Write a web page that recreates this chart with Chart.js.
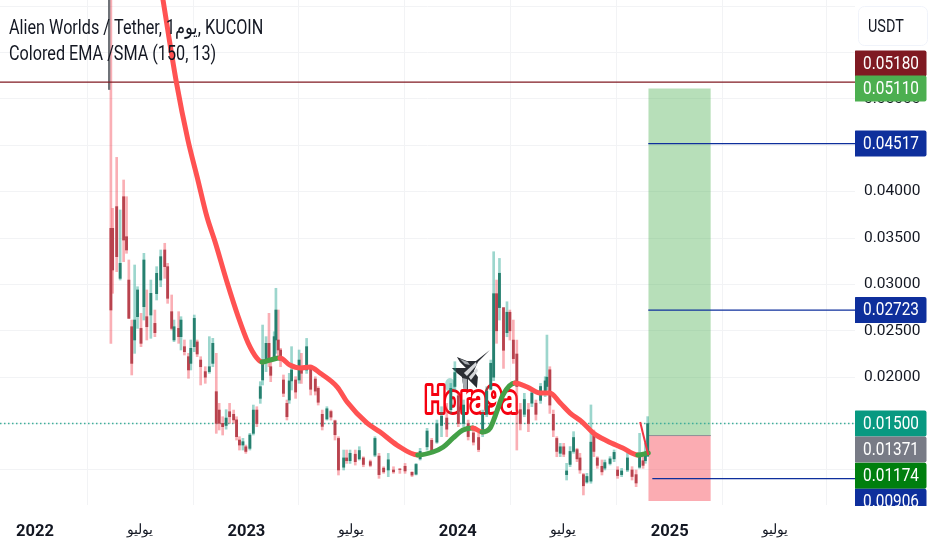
<!DOCTYPE html>
<html><head><meta charset="utf-8">
<style>html,body{margin:0;padding:0;background:#fff}canvas{display:block;filter:blur(.35px)}</style>
<script src="https://cdn.jsdelivr.net/npm/chart.js@4"></script>
</head><body><canvas id="c" width="932" height="550"></canvas>
<script>
// Candles: days since 2022-01-01 and OHLC
const candleDays=[131,134,141,147,153,158,162,167,172,177,183,188,193,200,207,210,217,224,229,236,240,248,252,258,265,269,275,280,286,294,301,307,313,318,324,330,336,343,348,353,359,364,371,377,383,389,393,399,404,407,413,416,420,424,429,435,439,443,450,456,460,469,476,484,489,496,504,511,518,524,533,538,544,553,560,567,579,587,594,602,610,619,630,639,651,658,665,677,685,694,702,711,718,725,731,740,748,757,766,773,780,787,792,797,802,809,815,820,826,832,838,845,852,858,865,873,881,884,889,895,901,907,913,918,924,930,936,941,947,953,960,965,971,979,984,993,1000,1006,1013,1023,1031,1038,1044,1050,1054,1058];
const highs=[.0700,.03820,.04369,.03802,.04125,.03945,.03263,.02616,.03209,.02975,.02688,.03335,.02940,.03047,.02724,.03191,.03371,.03443,.03227,.02886,.02616,.02706,.02652,.02401,.02257,.02401,.02670,.02401,.02221,.02113,.02437,.02419,.02257,.01718,.01574,.01650,.01718,.01646,.01574,.01359,.01341,.01269,.01395,.01700,.01682,.01952,.02562,.02437,.02688,.02185,.02490,.02958,.02724,.02311,.02024,.01754,.02042,.02329,.02006,.02293,.02257,.02418,.02113,.02005,.01898,.01646,.01682,.01646,.01538,.01359,.01215,.01215,.01215,.01215,.01251,.01143,.01107,.01359,.01179,.01035,.01179,.01035,.01017,.01071,.00982,.01071,.01233,.01449,.01341,.01538,.01682,.01718,.01933,.02167,.01826,.01754,.01538,.01467,.01395,.01646,.01898,.02185,.03352,.03047,.03280,.02616,.02813,.02724,.02616,.02400,.01718,.01826,.01718,.01862,.01754,.01933,.02005,.02454,.02113,.01646,.01359,.01287,.01287,.01072,.01252,.01413,.01234,.01180,.00964,.00964,.01701,.01431,.01144,.01108,.01108,.01144,.01216,.01036,.01018,.01180,.01036,.01000,.01395,.01180,.01287,.01575];
const lows=[.02365,.02904,.03137,.03047,.03245,.03335,.02634,.02024,.02257,.02526,.02329,.02616,.02401,.02419,.02437,.02832,.02975,.03065,.02796,.02508,.02383,.02365,.02293,.02239,.01988,.02078,.02275,.02221,.01916,.01934,.02042,.02113,.01395,.01431,.01377,.01440,.01503,.01503,.01323,.01215,.01215,.01179,.01215,.01377,.01467,.01718,.01916,.02060,.02113,.01952,.02185,.02257,.02221,.02113,.01790,.01539,.01718,.01862,.01772,.01934,.01933,.02041,.01808,.01808,.01700,.01431,.01538,.01538,.01323,.00946,.01000,.01071,.01071,.01053,.01107,.01035,.01035,.01143,.00910,.00964,.00928,.00964,.00964,.00964,.00928,.00946,.01107,.01215,.01179,.01287,.01359,.01359,.01610,.01862,.01467,.01467,.01323,.01269,.01197,.01359,.01574,.01862,.01963,.02365,.02616,.02095,.02436,.02400,.02149,.01215,.01431,.01574,.01413,.01682,.01538,.01718,.01790,.01862,.01610,.01359,.01143,.01144,.01144,.00892,.01036,.01180,.01090,.00964,.00731,.00857,.00857,.01144,.01018,.00946,.01000,.01054,.01090,.00910,.00928,.00982,.00892,.00820,.01018,.01018,.01072,.01144];
const opens=[.03604,.03604,.03838,.03065,.03945,.03514,.03047,.02544,.02401,.02652,.02526,.02760,.02652,.02670,.02580,.02900,.03047,.03371,.03191,.02706,.02401,.02526,.02437,.02329,.02221,.02149,.02329,.02380,.02185,.02060,.02060,.02149,.01844,.01646,.01503,.01480,.01628,.01600,.01540,.01323,.01269,.01250,.01233,.01395,.01646,.01772,.01970,.02185,.02365,.02113,.02220,.02401,.02401,.02293,.01970,.01718,.01754,.01960,.01970,.01970,.02113,.02077,.02090,.01980,.01880,.01600,.01550,.01630,.01530,.01340,.01030,.01130,.01100,.01170,.01120,.01130,.01090,.01160,.01150,.01020,.01000,.01000,.01010,.01040,.00975,.00955,.01120,.01250,.01320,.01300,.01480,.01560,.01650,.01900,.01800,.01500,.01500,.01400,.01350,.01400,.01600,.01870,.02000,.02900,.02750,.02750,.02480,.02700,.02400,.02250,.01650,.01600,.01650,.01720,.01720,.01750,.01840,.01900,.02080,.01600,.01340,.01180,.01250,.00950,.01060,.01200,.01220,.01130,.00950,.00870,.00880,.01370,.01130,.01040,.01020,.01070,.01120,.01000,.00950,.01000,.01000,.00950,.01030,.01100,.01100,.01150];
const closes=[.02724,.03155,.03299,.03227,.03478,.03371,.02634,.02149,.02616,.02940,.02365,.03263,.02544,.02904,.02480,.03119,.03299,.03191,.02850,.02526,.02544,.02437,.02616,.02275,.02078,.02311,.02634,.02250,.02113,.02000,.02113,.02365,.01503,.01503,.01467,.01560,.01574,.01540,.01359,.01269,.01305,.01200,.01377,.01646,.01500,.01898,.02185,.02365,.02200,.02020,.02437,.02724,.02293,.02185,.01826,.01574,.01960,.02078,.01840,.02185,.02042,.02329,.01870,.01850,.01730,.01470,.01660,.01570,.01380,.01000,.01130,.01100,.01180,.01090,.01210,.01060,.01050,.01340,.00950,.00980,.01110,.00980,.01005,.00990,.00945,.01060,.01200,.01420,.01200,.01500,.01580,.01440,.01880,.02050,.01500,.01700,.01360,.01300,.01220,.01600,.01850,.02150,.02900,.02500,.03120,.02290,.02700,.02500,.02200,.01900,.01500,.01760,.01500,.01830,.01600,.01900,.01960,.02000,.01700,.01430,.01200,.01250,.01170,.00990,.01200,.01350,.01120,.01000,.00830,.00930,.01300,.01200,.01050,.00980,.01080,.01120,.01190,.00940,.00990,.01130,.00930,.00860,.01180,.01050,.01150,.01500];
const listingDay=[128];
const listingRange=[[.0510,.0700]];
// Colored EMA/SMA (150, 13)
const emaDays=[221,244,264,280,297,311,332,351,368,383,392,406,423,440,458,475,492,522,539,573,596,625,661,687,705,722,739,756,772,786,794,808,829,850,872,889,907,924,945,964,988,1015,1041,1059];
const emaValues=[.06065,.05181,.04556,.04157,.03726,.03457,.03015,.02649,.02369,.02207,.02164,.02185,.02207,.02131,.02099,.02110,.02045,.01894,.01733,.01507,.01409,.01269,.01162,.01194,.01248,.01345,.01431,.01453,.01409,.01453,.01571,.01808,.01938,.01894,.01830,.01830,.01722,.01614,.01517,.01399,.01312,.01237,.01162,.01183];
const emaRising=[0,0,0,0,0,0,0,0,0,0,0,1,1,0,0,0,0,0,0,0,0,0,0,1,1,1,1,1,0,1,1,1,1,0,0,0,0,0,0,0,0,0,0,1];
// Axes
const priceTicks=[.06,.055,.05,.045,.04,.035,.03,.025,.02,.015,.01];
const priceTicksShown=[.05,.04,.035,.03,.025,.02];
const timeTicks=[0,181,365,546,730,912,1096,1277];
const timeLabels=['2022','يوليو','2023','يوليو','2024','يوليو','2025','يوليو'];
const yearTicks=[0,365,730,1096];
// Trade drawing
const tradeDays=[1059,1167];
const targetPrice=.0511, entryPrice=.01371, stopPrice=.00667;
const resistance=.0518, lastPrice=.015;
const blueLevels=[.04517,.02723];
const lowerBlueLevel=.00906, lowerBlueStart=1066;
const viewDays=[-60.5,1416];
const viewPrice=[.006228,.060647];
const arrowDays=[1045,1059], arrowValues=[.01517,.01162];
const titleLines=['Alien Worlds / Tether, 1يوم, KUCOIN','Colored EMA /SMA (150, 13)'];
const tagValues=['0.05180','0.05110','0.04517','0.02723','0.01500','0.01371','0.01174','0.00906'];
const tagPrices=[.0518,.0511,.04517,.02723,.015,.01371,.01174,.00906];
const tagColors=['#7f1a22','#4caf50','#0e2f9c','#0e2f9c','#089981','#787b86','#007f0e','#0e2f9c'];
const tagShift=[-18.5,0,0,0,0,14,22,23];

const UP='#089981',DN='#f23645',UPW='rgba(8,153,129,.4)',DNW='rgba(242,54,69,.4)';
const FONT='Roboto, sans-serif';
const isUp=i=>closes[i]>=opens[i];
const levelLine=(vals,xs,color,w,order,extra)=>Object.assign({type:'line',data:xs.map((x,i)=>({x,y:vals[i]})),borderColor:color,borderWidth:w,pointRadius:0,order},extra||{});

const datasets=[
 {type:'bar',label:'wicks',data:candleDays.map((x,i)=>({x,y:[lows[i],highs[i]]})),backgroundColor:candleDays.map((_,i)=>isUp(i)?UPW:DNW),barThickness:2,grouped:false,order:6},
 {type:'bar',label:'bodies',data:candleDays.map((x,i)=>({x,y:[opens[i],closes[i]]})),backgroundColor:candleDays.map((_,i)=>isUp(i)?'#26806f':'#b8434e'),barThickness:2.2,grouped:false,order:5},
 {type:'bar',label:'listing',data:listingDay.map((x,i)=>({x,y:listingRange[i]})),backgroundColor:'#6f7378',barThickness:1.6,grouped:false,order:5},
 levelLine([targetPrice,targetPrice],tradeDays,'rgba(0,0,0,0)',0,9,{fill:{value:entryPrice},backgroundColor:'rgba(76,175,80,.4)'}),
 levelLine([stopPrice,stopPrice],tradeDays,'rgba(0,0,0,0)',0,9,{fill:{value:entryPrice},backgroundColor:'rgba(247,82,95,.48)'}),
 levelLine([entryPrice,entryPrice],tradeDays,'#8d8f96',1,8),
 levelLine([lastPrice,lastPrice],viewDays,'#3fae9a',1.5,7,{borderDash:[1.5,2.5]}),
 levelLine([resistance,resistance],viewDays,'#801a22',1.3,4),
 levelLine([blueLevels[0],blueLevels[0]],[tradeDays[0],viewDays[1]],'#0e2f9c',1.3,4),
 levelLine([blueLevels[1],blueLevels[1]],[tradeDays[0],viewDays[1]],'#0e2f9c',1.3,4),
 levelLine([lowerBlueLevel,lowerBlueLevel],[lowerBlueStart,viewDays[1]],'#0e2f9c',1.3,4),
 {type:'line',label:'ema',data:emaDays.map((x,i)=>({x,y:emaValues[i]})),borderWidth:5,borderColor:'#ff5252',borderCapStyle:'round',pointRadius:0,cubicInterpolationMode:'monotone',order:3,
  segment:{borderColor:c=>emaRising[c.p1DataIndex]?'#43a047':'#ff5252'}},
 levelLine(arrowValues,arrowDays,'#f23645',2,2)
];

const squeezed=(c,text,x,y,font,sx)=>{c.save();c.translate(x,y);c.scale(sx,1);c.font=font;c.fillText(text,0,0);c.restore();};
const overlay={id:'overlay',
 beforeDatasetsDraw(ch){
  const c=ch.ctx,x=ch.scales.x,y=ch.scales.y;
  c.save();
  c.translate(x.getPixelForValue(751),y.getPixelForValue(.02078));
  const poly=(pts,col)=>{c.fillStyle=col;c.beginPath();pts.forEach((p,i)=>i?c.lineTo(p[0],p[1]):c.moveTo(p[0],p[1]));c.closePath();c.fill();};
  c.fillStyle='rgba(8,153,129,.35)';c.beginPath();c.ellipse(-20,15,5,7,0,0,7);c.fill();
  poly([[20,-20],[6,-9],[-3,-9],[-13,-13],[-10,-8],[-4,-2],[-18,-2],[-13,3],[-8,7],[-6,20],[-2,20],[-2,9],[7,18],[8,7],[4,1],[8,-8]],'#2a2d33');
  poly([[-10,-11],[-2,-8],[0,-5],[-5,-6]],'#a5a9ae');
  poly([[-6,3],[6,-8],[7,-5],[-3,6]],'#d5d7da');
  poly([[-1,7],[7,-2],[8,1],[1,10]],'#d5d7da');
  poly([[-8,8],[-3,9],[-3,20],[-6,20]],'#a5a9ae');
  c.restore();
  c.save();
  c.translate(x.getPixelForValue(753),y.getPixelForValue(.01722));
  c.scale(.78,1);
  c.font='bold 36px '+FONT;c.textAlign='center';c.textBaseline='middle';
  c.lineJoin='round';c.lineWidth=6;c.strokeStyle='#f5000f';c.strokeText('Hora9a',0,0);
  c.fillStyle='#ffffff';c.fillText('Hora9a',0,0);
  c.restore();
 },
 afterDraw(ch){
  const c=ch.ctx,y=ch.scales.y,a=ch.chartArea;
  c.save();
  c.fillStyle='#131722';c.textAlign='left';c.textBaseline='middle';
  squeezed(c,titleLines[0],9,29,'20px '+FONT,.81);
  squeezed(c,titleLines[1],9,55,'20px '+FONT,.81);
  c.strokeStyle='#f0f3fa';c.lineWidth=1;c.beginPath();c.roundRect(858.5,6.5,69,39,6);c.stroke();
  squeezed(c,'USDT',868,27,'18px '+FONT,.8);
  c.beginPath();c.rect(a.right,0,ch.width-a.right,a.bottom+1);c.clip();
  c.textAlign='center';
  tagValues.forEach((t,i)=>{
   const cy=y.getPixelForValue(tagPrices[i])+tagShift[i];
   c.fillStyle=tagColors[i];c.beginPath();c.roundRect(854,cy-13,72.5,26,2);c.fill();
   c.fillStyle='#fff';squeezed(c,t,891,cy+.5,'19px '+FONT,.81);
  });
  c.restore();
 }};

const noPad=s=>{s.paddingTop=0;s.paddingBottom=0;s.paddingLeft=0;s.paddingRight=0;};
new Chart(document.getElementById('c'),{
 data:{datasets},
 plugins:[overlay],
 options:{responsive:false,animation:false,events:[],devicePixelRatio:1,
  layout:{padding:0},
  plugins:{legend:{display:false},title:{display:false},tooltip:{enabled:false}},
  scales:{
   x:{type:'linear',offset:false,min:viewDays[0],max:viewDays[1],
    afterBuildTicks:s=>{s.ticks=timeTicks.map(value=>({value}));},
    afterFit:s=>{s.height=45;noPad(s);},
    grid:{color:'#f2f3f5',drawTicks:false},border:{display:false},
    ticks:{autoSkip:false,maxRotation:0,padding:17,color:'#131722',
     callback:v=>timeLabels[timeTicks.indexOf(v)],
     font:c=>yearTicks.includes(c.tick&&c.tick.value)?{family:FONT,size:16.5,weight:'bold'}:{family:FONT,size:14}}},
   y:{type:'linear',position:'right',min:viewPrice[0],max:viewPrice[1],
    afterBuildTicks:s=>{s.ticks=priceTicks.map(value=>({value}));},
    afterFit:s=>{s.width=77;noPad(s);},
    grid:{color:'#f2f3f5',drawTicks:false},border:{display:false},
    ticks:{autoSkip:false,padding:9,color:'#131722',font:{family:FONT,size:15.5},
     callback:v=>priceTicksShown.includes(v)?v.toFixed(5):''}}
  }}
});
</script></body></html>
